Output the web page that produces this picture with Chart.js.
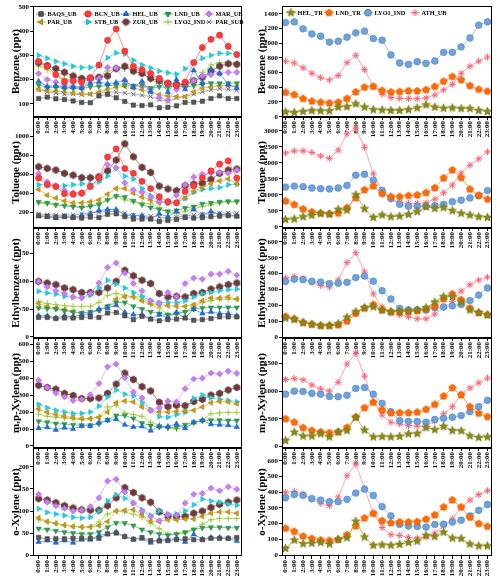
<!DOCTYPE html>
<html>
<head>
<meta charset="utf-8">
<script src="https://cdn.jsdelivr.net/npm/chart.js@4.4.0/dist/chart.umd.min.js"></script>
<style>
html, body { margin: 0; padding: 0; background: #fff; }
#wrap { position: relative; width: 500px; height: 581px; overflow: hidden; }
#wrap canvas { position: absolute; }
</style>
</head>
<body>
<div id="wrap"></div>
<script>
const hours = ['0:00','1:00','2:00','3:00','4:00','5:00','6:00','7:00','8:00','9:00','10:00','11:00',
               '12:00','13:00','14:00','15:00','16:00','17:00','18:00','19:00','20:00','21:00','22:00','23:00'];

// ---- Benzene, urban sites
const benz_BAQS_UB  = [122,128,121,118,112,106,105,133,139,125,110,95,93,96,84,86,92,106,107,111,122,133,122,122];
const benz_BCN_UB   = [275,255,220,192,195,190,208,260,362,408,317,255,240,225,205,185,175,190,270,332,366,383,337,303];
const benz_HEL_UB   = [193,172,175,168,168,165,185,190,183,188,198,168,193,150,200,148,200,160,238,185,242,225,180,165];
const benz_LND_UB   = [178,168,168,165,165,163,170,172,175,178,178,175,178,165,170,168,175,168,175,182,185,185,185,185];
const benz_MAR_UB   = [225,200,190,178,172,170,195,205,250,248,195,172,172,160,125,115,160,170,195,215,220,225,230,230];
const benz_PAR_UB   = [160,155,152,150,145,142,140,148,160,168,172,165,158,150,138,132,130,130,150,165,170,175,175,172];
const benz_STB_UB   = [300,288,275,265,255,250,250,258,290,310,305,280,260,248,235,228,222,245,270,288,300,308,308,305];
const benz_ZUR_UB   = [270,258,245,230,215,205,205,210,215,245,255,235,225,205,195,185,180,180,195,210,235,255,265,263];
const benz_LYO2_IND = [255,240,220,205,195,195,200,205,235,245,245,250,230,200,185,180,175,180,190,230,260,270,270,265];
const benz_PAR_SUB  = [158,150,145,140,140,138,140,145,150,148,145,140,135,130,118,110,125,130,140,150,158,162,160,155];

// ---- Benzene, traffic / industrial sites
const benz_HEL_TR   = [65,58,70,82,80,78,130,135,175,130,95,92,85,85,95,120,160,130,115,120,110,110,85,70];
const benz_LND_TR   = [330,300,245,210,195,185,195,245,335,400,410,355,335,340,350,350,365,410,480,545,500,420,370,345];
const benz_LYO1_IND = [1280,1290,1195,1126,1094,1015,1026,1081,1140,1163,1062,1040,840,730,711,748,725,757,875,875,948,1071,1245,1290];
const benz_ATH_UB   = [755,730,665,590,530,500,560,735,835,640,415,305,260,250,245,245,255,295,365,440,590,685,755,810];

// ---- Toluene, urban sites
const tol_BAQS_UB  = [165,160,150,155,145,140,150,145,180,185,155,130,130,130,105,115,125,145,140,145,155,160,165,160];
const tol_BCN_UB   = [560,490,470,395,390,400,470,560,780,865,660,610,525,450,365,310,300,420,480,560,635,705,740,560];
const tol_HEL_UB   = [160,150,140,155,150,165,185,220,230,230,170,165,165,130,185,155,210,150,230,170,210,180,175,160];
const tol_LND_UB   = [310,300,280,270,260,250,265,280,330,370,360,320,280,250,230,210,220,245,260,290,300,310,315,315];
const tol_MAR_UB   = [605,520,480,430,405,410,470,560,700,665,510,435,410,360,310,320,380,490,570,600,615,620,610,645];
const tol_PAR_UB   = [440,380,350,320,300,300,310,330,390,450,450,400,360,330,300,300,310,350,420,460,500,530,550,500];
const tol_STB_UB   = [490,500,470,480,490,500,495,520,580,665,580,550,450,375,330,295,300,345,410,440,450,460,490,495];
const tol_ZUR_UB   = [678,661,644,609,591,563,563,574,637,748,920,783,672,619,476,445,427,480,497,504,546,609,644,655];
const tol_LYO2_IND = [300,290,280,270,265,255,260,300,330,370,330,310,300,290,250,200,190,210,240,260,280,300,310,310];
const tol_PAR_SUB  = [185,175,170,170,175,185,195,200,210,210,190,170,165,160,150,140,150,160,170,180,185,190,195,190];

// ---- Toluene, traffic / industrial sites
const tol_HEL_TR   = [225,240,310,355,415,395,540,520,1000,560,290,365,310,330,385,470,620,570,595,500,420,365,310,290];
const tol_LND_TR   = [800,690,550,460,420,400,420,590,900,1150,1270,1030,940,940,970,990,1060,1210,1520,1770,1530,1170,980,860];
const tol_LYO1_IND = [1240,1270,1250,1210,1190,1180,1210,1290,1610,1640,1450,1130,880,700,640,640,640,660,700,780,830,900,970,1130];
const tol_ATH_UB   = [2300,2370,2370,2320,2210,2140,2390,2900,3080,2480,1650,1150,870,760,730,730,750,860,1060,1300,1680,1920,2120,2340];

// ---- Ethylbenzene, urban sites
const eth_BAQS_UB  = [35,35,33,34,34,35,36,35,43,44,38,31,37,32,29,31,32,34,30,31,33,36,36,36];
const eth_HEL_UB   = [38,38,34,38,36,40,42,50,52,57,44,40,40,32,40,35,44,34,50,42,45,42,42,38];
const eth_LND_UB   = [52,51,50,47,45,43,45,48,55,62,62,55,50,45,42,40,42,45,50,52,53,53,53,53];
const eth_MAR_UB   = [100,90,83,78,72,70,78,97,125,133,115,96,83,65,60,80,72,96,106,104,113,113,118,111];
const eth_PAR_UB   = [60,55,52,49,45,43,44,48,55,68,72,72,65,60,58,56,55,55,58,65,70,70,72,68];
const eth_STB_UB   = [82,79,77,73,71,71,75,88,102,95,88,80,73,65,62,62,62,65,72,78,80,83,85,86];
const eth_ZUR_UB   = [100,97,94,88,85,80,80,80,88,100,120,110,102,96,78,72,73,72,78,80,86,90,94,97];
const eth_LYO2_IND = [64,60,58,56,55,55,55,62,75,78,75,72,72,58,52,40,42,45,55,62,65,68,68,68];

// ---- Ethylbenzene, traffic / industrial sites
const eth_HEL_TR   = [120,110,90,80,72,72,85,125,160,185,190,170,160,160,165,170,185,220,255,255,220,170,155,140];
const eth_LND_TR   = [130,115,92,80,72,72,75,100,148,182,205,170,160,160,160,165,175,195,240,272,235,182,152,140];
const eth_LYO1_IND = [350,365,362,352,347,337,340,345,375,385,352,292,240,180,172,172,170,185,190,197,205,230,265,310];
const eth_ATH_UB   = [372,382,372,345,325,315,360,470,532,410,272,190,150,140,128,115,115,145,185,225,290,330,360,378];

// ---- m,p-Xylene, urban sites
const mpx_HEL_UB   = [105,110,95,108,100,118,118,138,150,158,125,112,115,90,115,115,130,105,140,150,128,125,122,112];
const mpx_LND_UB   = [145,140,132,130,125,122,122,130,155,180,180,162,135,120,112,108,110,125,140,150,152,152,150,150];
const mpx_MAR_UB   = [388,344,312,290,268,275,302,368,467,483,402,318,284,209,225,265,260,338,395,400,430,425,442,428];
const mpx_PAR_UB   = [218,198,185,175,168,162,162,168,200,255,265,260,230,210,200,200,205,205,210,230,255,262,260,248];
const mpx_STB_UB   = [245,225,210,200,192,192,200,235,290,330,305,295,255,215,173,169,185,199,280,300,285,275,268,260];
const mpx_ZUR_UB   = [358,345,335,310,298,280,280,283,310,365,430,392,350,325,258,232,240,238,262,275,300,310,330,345];
const mpx_LYO2_IND = [188,175,170,165,160,155,160,175,230,240,195,185,175,140,125,105,100,110,130,155,190,195,198,198];

// ---- m,p-Xylene, traffic / industrial sites
const mpx_HEL_TR   = [110,260,190,190,230,175,265,290,530,300,175,180,175,185,230,235,340,305,365,290,285,195,165,175];
const mpx_LND_TR   = [500,440,340,290,265,250,265,345,530,700,800,660,605,610,610,620,670,760,910,1060,930,720,600,540];
const mpx_LYO1_IND = [945,1000,995,960,945,905,900,925,1050,1065,945,780,630,470,455,455,440,490,510,530,560,630,720,835];
const mpx_ATH_UB   = [1210,1230,1205,1110,1040,1000,1160,1490,1680,1270,800,570,440,410,380,370,370,460,590,720,950,1060,1150,1235];

// ---- o-Xylene, urban sites
const ox_BAQS_UB  = [40,37,37,37,38,38,38,38,48,50,42,36,40,33,32,33,35,37,35,35,38,38,38,40];
const ox_HEL_UB   = [30,33,28,33,28,35,35,45,48,52,42,36,37,28,35,35,38,30,47,36,40,40,38,32];
const ox_LND_UB   = [60,58,55,52,50,48,48,52,63,73,73,67,58,52,48,45,48,52,58,62,63,63,62,62];
const ox_MAR_UB   = [138,120,112,106,100,102,110,130,168,172,143,118,100,88,78,92,90,118,138,140,152,146,155,149];
const ox_PAR_UB   = [85,76,72,68,65,64,64,67,76,100,102,103,92,77,76,80,80,82,82,88,95,98,98,95];
const ox_STB_UB   = [105,97,93,90,86,84,86,100,123,137,129,118,103,90,100,93,93,100,114,127,123,120,116,113];
const ox_ZUR_UB   = [128,125,119,112,107,103,102,102,112,130,153,142,130,120,98,88,88,88,95,100,108,115,120,125];
const ox_LYO2_IND = [80,76,72,68,65,63,64,75,93,100,98,93,86,72,60,48,47,50,58,70,80,83,83,83];

// ---- o-Xylene, traffic / industrial sites
const ox_HEL_TR   = [42,95,72,75,80,70,100,110,215,115,62,65,62,68,80,88,125,118,145,108,105,70,58,58];
const ox_LND_TR   = [170,150,120,105,95,92,98,128,185,235,265,218,205,210,210,212,228,255,305,350,305,240,200,182];
const ox_LYO1_IND = [365,385,380,360,350,340,340,355,395,420,380,308,250,195,185,182,178,195,197,210,222,250,285,322];
const ox_ATH_UB   = [400,405,390,355,330,315,370,505,580,425,265,175,130,125,112,108,115,140,185,230,305,350,385,410];

// ---- y tick values per panel
const benzTicksL = [100,200,300,400,500];
const tolTicksL  = [200,400,600,800,1000];
const ethTicksL  = [0,50,100,150];
const mpxTicksL  = [0,100,200,300,400,500,600];
const oxTicksL   = [0,50,100,150,200];
const benzTicksR = [0,200,400,600,800,1000,1200,1400];
const tolTicksR  = [0,500,1000,1500,2000,2500,3000];
const ethTicksR  = [0,100,200,300,400,500,600];
const mpxTicksR  = [0,500,1000,1500];
const oxTicksR   = [0,100,200,300,400,500,600];

const FONT = '"Liberation Serif", "Times New Roman", serif';

// small custom marker images
function shapeCanvas(kind, fill, stroke, r) {
    const s = Math.ceil(r * 2 + 2);
    const c = document.createElement('canvas');
    c.width = c.height = s;
    const g = c.getContext('2d');
    const cx = s / 2, cy = s / 2;
    g.beginPath();
    if (kind === 'star') {
        for (let k = 0; k < 10; k++) {
            const rr = k % 2 ? r * 0.45 : r;
            const a = -Math.PI / 2 + k * Math.PI / 5;
            g.lineTo(cx + rr * Math.cos(a), cy + rr * Math.sin(a));
        }
    } else {
        const n = kind === 'pentagon' ? 5 : 6;
        for (let k = 0; k < n; k++) {
            const a = -Math.PI / 2 + k * 2 * Math.PI / n;
            g.lineTo(cx + r * Math.cos(a), cy + r * Math.sin(a));
        }
    }
    g.closePath();
    g.fillStyle = fill;
    g.fill();
    g.strokeStyle = stroke;
    g.lineWidth = 0.6;
    g.stroke();
    return c;
}

const siteStyle = {
    BAQS_UB:  { fill: '#555555', edge: '#3c3c3c', line: '#8c8c8c', shape: 'rect' },
    BCN_UB:   { fill: '#ff3b3b', edge: '#e02020', line: '#ff7070', shape: 'circle' },
    HEL_UB:   { fill: '#1d6fe0', edge: '#1556b0', line: '#5a90dc', shape: 'triangle' },
    LND_UB:   { fill: '#2f9e55', edge: '#22803f', line: '#5cb87c', shape: 'triangle', rot: 180 },
    MAR_UB:   { fill: '#c77ef0', edge: '#a95fd6', line: '#d9a6f2', shape: 'rectRot' },
    PAR_UB:   { fill: '#cc9a10', edge: '#a87d08', line: '#d8b450', shape: 'triangle', rot: -90 },
    STB_UB:   { fill: '#1fd0e0', edge: '#10aebd', line: '#60dbe6', shape: 'triangle', rot: 90 },
    ZUR_UB:   { fill: '#6e3a3a', edge: '#552828', line: '#9a6a6a', shape: 'hexagon' },
    LYO2_IND: { fill: '#99cc33', edge: '#88c020', line: '#a6d24a', shape: 'cross' },
    PAR_SUB:  { fill: '#666677', edge: '#55556a', line: '#9a9aa8', shape: 'crossRot' },
    HEL_TR:   { fill: '#8a8a12', edge: '#6d6d08', line: '#a3a340', shape: 'star5' },
    LND_TR:   { fill: '#ff6a00', edge: '#e05800', line: '#ff8a33', shape: 'pentagon' },
    LYO1_IND: { fill: '#6ea2dc', edge: '#4a80c0', line: '#8ab4e2', shape: 'circle' },
    ATH_UB:   { fill: '#ff6070', edge: '#ff5060', line: '#ff8f96', shape: 'star' }
};

function makeDataset(name, values, r) {
    const st = siteStyle[name];
    let style = st.shape;
    if (style === 'star5') style = shapeCanvas('star', st.fill, st.edge, r + 1);
    else if (style === 'pentagon' || style === 'hexagon') style = shapeCanvas(style, st.fill, st.edge, r + 0.4);
    const stroked = st.shape === 'cross' || st.shape === 'crossRot' || st.shape === 'star';
    return {
        label: name,
        data: values.map((v, i) => ({ x: i, y: v })),
        borderColor: st.line,
        borderWidth: 0.8,
        pointStyle: style,
        pointRadius: r,
        pointRotation: st.rot || 0,
        pointBackgroundColor: st.fill,
        pointBorderColor: stroked ? st.fill : st.edge,
        pointBorderWidth: stroked ? 1 : 0.5,
        tension: 0,
        clip: false
    };
}

const boxPlugin = {
    id: 'panelBox',
    afterDatasetsDraw(chart) {
        const { ctx, chartArea: a } = chart;
        ctx.save();
        ctx.strokeStyle = '#000';
        ctx.lineWidth = 1;
        ctx.strokeRect(Math.round(a.left) + 0.5, Math.round(a.top) + 0.5,
                       Math.round(a.right - a.left) - 1, Math.round(a.bottom - a.top) - 1);
        ctx.restore();
    }
};

const legendPlugin = {
    id: 'inlineLegend',
    afterDatasetsDraw(chart, args, opts) {
        if (!opts.items) return;
        const { ctx, chartArea } = chart;
        ctx.save();
        ctx.font = 'bold 6.3px ' + FONT;
        ctx.textBaseline = 'middle';
        ctx.textAlign = 'left';
        opts.items.forEach((it, idx) => {
            const ds = chart.data.datasets[idx];
            const x = chartArea.left + it[0], y = chartArea.top + it[1];
            ctx.strokeStyle = ds.borderColor;
            ctx.lineWidth = 1;
            ctx.beginPath();
            ctx.moveTo(x - 5, y);
            ctx.lineTo(x + 5, y);
            ctx.stroke();
            ctx.fillStyle = ds.pointBackgroundColor;
            ctx.strokeStyle = ds.pointBorderColor;
            Chart.helpers.drawPoint(ctx, {
                pointStyle: ds.pointStyle, radius: ds.pointRadius,
                rotation: ds.pointRotation, borderWidth: ds.pointBorderWidth
            }, x, y);
            ctx.fillStyle = '#000';
            ctx.fillText(ds.label, x + 6.5, y + 0.5);
        });
        ctx.restore();
    }
};

const legendLeft = [[8,8],[55,8],[93,8],[135,8],[176,8],[8,16],[55,16],[93,16],[135,16],[176,16]];
const legendRight = [[9,6.7],[47,6.7],[86,6.7],[133,6.7]];

const panels = [
    { col: 0, top: 6, bottom: 117, min: 46, max: 503, ticks: benzTicksL, title: 'Benzene (ppt)', legend: legendLeft,
      series: [['BAQS_UB', benz_BAQS_UB], ['BCN_UB', benz_BCN_UB], ['HEL_UB', benz_HEL_UB], ['LND_UB', benz_LND_UB],
               ['MAR_UB', benz_MAR_UB], ['PAR_UB', benz_PAR_UB], ['STB_UB', benz_STB_UB], ['ZUR_UB', benz_ZUR_UB],
               ['LYO2_IND', benz_LYO2_IND], ['PAR_SUB', benz_PAR_SUB]] },
    { col: 0, top: 117, bottom: 228, min: 36, max: 1200, ticks: tolTicksL, title: 'Toluene (ppt)',
      series: [['BAQS_UB', tol_BAQS_UB], ['BCN_UB', tol_BCN_UB], ['HEL_UB', tol_HEL_UB], ['LND_UB', tol_LND_UB],
               ['MAR_UB', tol_MAR_UB], ['PAR_UB', tol_PAR_UB], ['STB_UB', tol_STB_UB], ['ZUR_UB', tol_ZUR_UB],
               ['LYO2_IND', tol_LYO2_IND], ['PAR_SUB', tol_PAR_SUB]] },
    { col: 0, top: 228, bottom: 338, min: -2, max: 196, ticks: ethTicksL, title: 'Ethylbenzene (ppt)',
      series: [['BAQS_UB', eth_BAQS_UB], ['HEL_UB', eth_HEL_UB], ['LND_UB', eth_LND_UB], ['MAR_UB', eth_MAR_UB],
               ['PAR_UB', eth_PAR_UB], ['STB_UB', eth_STB_UB], ['ZUR_UB', eth_ZUR_UB], ['LYO2_IND', eth_LYO2_IND]] },
    { col: 0, top: 338, bottom: 448, min: -12, max: 637, ticks: mpxTicksL, title: 'm,p-Xylene (ppt)',
      series: [['HEL_UB', mpx_HEL_UB], ['LND_UB', mpx_LND_UB], ['MAR_UB', mpx_MAR_UB], ['PAR_UB', mpx_PAR_UB],
               ['STB_UB', mpx_STB_UB], ['ZUR_UB', mpx_ZUR_UB], ['LYO2_IND', mpx_LYO2_IND]] },
    { col: 0, top: 448, bottom: 556, min: -2, max: 243, ticks: oxTicksL, title: 'o-Xylene (ppt)',
      series: [['BAQS_UB', ox_BAQS_UB], ['HEL_UB', ox_HEL_UB], ['LND_UB', ox_LND_UB], ['MAR_UB', ox_MAR_UB],
               ['PAR_UB', ox_PAR_UB], ['STB_UB', ox_STB_UB], ['ZUR_UB', ox_ZUR_UB], ['LYO2_IND', ox_LYO2_IND]] },

    { col: 1, top: 6, bottom: 117, min: -4, max: 1505, ticks: benzTicksR, title: 'Benzene (ppt)', legend: legendRight,
      series: [['HEL_TR', benz_HEL_TR], ['LND_TR', benz_LND_TR], ['LYO1_IND', benz_LYO1_IND], ['ATH_UB', benz_ATH_UB]] },
    { col: 1, top: 117, bottom: 228, min: -40, max: 3428, ticks: tolTicksR, title: 'Toluene (ppt)',
      series: [['HEL_TR', tol_HEL_TR], ['LND_TR', tol_LND_TR], ['LYO1_IND', tol_LYO1_IND], ['ATH_UB', tol_ATH_UB]] },
    { col: 1, top: 228, bottom: 338, min: -6, max: 688, ticks: ethTicksR, title: 'Ethylbenzene (ppt)',
      series: [['HEL_TR', eth_HEL_TR], ['LND_TR', eth_LND_TR], ['LYO1_IND', eth_LYO1_IND], ['ATH_UB', eth_ATH_UB]] },
    { col: 1, top: 338, bottom: 448, min: -24, max: 1958, ticks: mpxTicksR, title: 'm,p-Xylene (ppt)',
      series: [['HEL_TR', mpx_HEL_TR], ['LND_TR', mpx_LND_TR], ['LYO1_IND', mpx_LYO1_IND], ['ATH_UB', mpx_ATH_UB]] },
    { col: 1, top: 448, bottom: 556, min: -6, max: 682, ticks: oxTicksR, title: 'o-Xylene (ppt)',
      series: [['HEL_TR', ox_HEL_TR], ['LND_TR', ox_LND_TR], ['LYO1_IND', ox_LYO1_IND], ['ATH_UB', ox_ATH_UB]] }
];

const columns = [
    { left: 0,   width: 247, axisW: 33, xmin: -0.65, xmax: 23.6, r: 3.1, titlePad: 9.5 },
    { left: 250, width: 247, axisW: 32, xmin: -0.4,  xmax: 23.5, r: 3.4, titlePad: 5.5 }
];

const PAD_TOP = 6, XAXIS_H = 24;
const wrap = document.getElementById('wrap');
Chart.defaults.color = '#000';
Chart.defaults.font.family = FONT;

panels.forEach(p => {
    const c = columns[p.col];
    const cv = document.createElement('canvas');
    const h = PAD_TOP + (p.bottom - p.top) + XAXIS_H;
    cv.width = c.width;
    cv.height = h;
    cv.style.left = c.left + 'px';
    cv.style.top = (p.top - PAD_TOP) + 'px';
    cv.style.width = c.width + 'px';
    cv.style.height = h + 'px';
    wrap.appendChild(cv);

    new Chart(cv, {
        type: 'line',
        data: { datasets: p.series.map(s => makeDataset(s[0], s[1], c.r)) },
        options: {
            responsive: false,
            animation: false,
            devicePixelRatio: 1,
            layout: { padding: { top: PAD_TOP, right: 1.5, left: 0, bottom: 0 } },
            plugins: {
                legend: { display: false },
                tooltip: { enabled: false },
                inlineLegend: { items: p.legend }
            },
            scales: {
                x: {
                    type: 'linear',
                    min: c.xmin,
                    max: c.xmax,
                    afterBuildTicks: s => { s.ticks = hours.map((_, i) => ({ value: i })); },
                    afterFit: s => { s.height = XAXIS_H; },
                    grid: { drawOnChartArea: false, color: '#000', tickLength: 3 },
                    border: { display: false },
                    ticks: {
                        autoSkip: false, minRotation: 90, maxRotation: 90, padding: 1,
                        font: { size: 7, weight: 'bold' },
                        callback: v => hours[v]
                    }
                },
                y: {
                    min: p.min,
                    max: p.max,
                    afterBuildTicks: s => { s.ticks = p.ticks.map(v => ({ value: v })); },
                    afterFit: s => { s.width = c.axisW; },
                    grid: { drawOnChartArea: false, color: '#000', tickLength: 3 },
                    border: { display: false },
                    ticks: { padding: 1, font: { size: 7, weight: 'bold' }, callback: v => String(v) },
                    title: {
                        display: true, text: p.title,
                        font: { size: 11, weight: 'bold' },
                        padding: { top: c.titlePad, bottom: 0 }
                    }
                }
            }
        },
        plugins: [boxPlugin, legendPlugin]
    });
});
</script>
</body>
</html>
